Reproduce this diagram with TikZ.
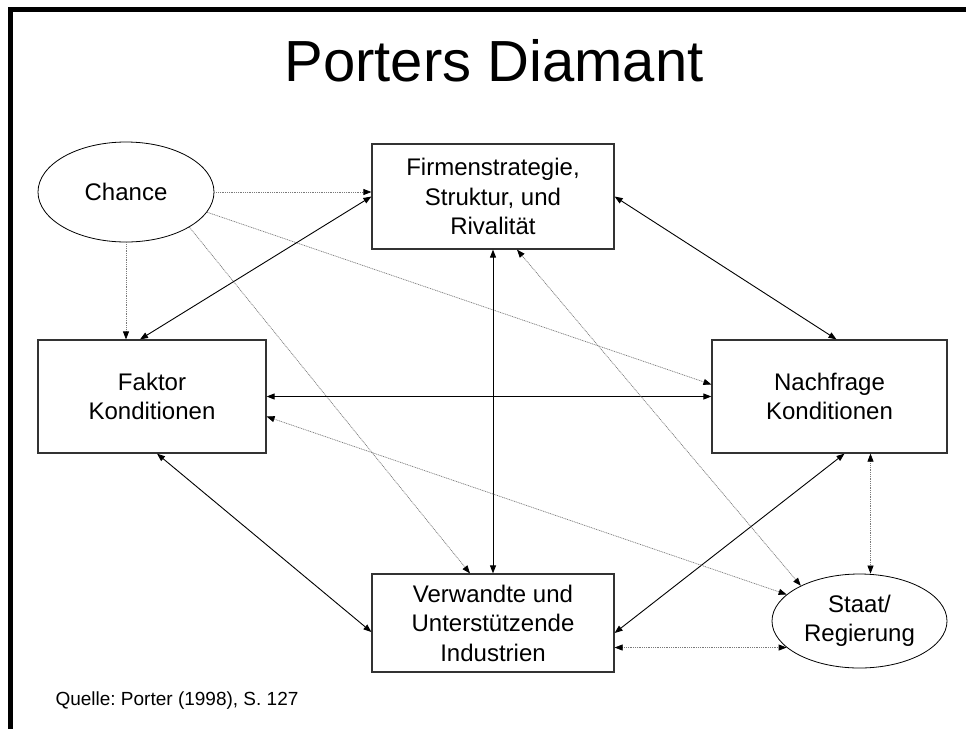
\documentclass[tikz,border=0pt]{standalone}
\usepackage{fontspec}
\setmainfont{Liberation Sans}
\usepackage{tikz}
\usetikzlibrary{calc,arrows.meta,shapes.geometric}
\definecolor{framegray}{HTML}{333333}
\definecolor{dotgray}{HTML}{7A7A7A}
\tikzset{
  box/.style={draw=framegray,line width=1.2pt,align=center,inner sep=0pt,
    font=\fontsize{24}{29.5}\selectfont},
  oval/.style={ellipse,draw=black,line width=0.8pt,align=center,inner sep=0pt,
    font=\fontsize{24}{29.5}\selectfont},
  solidar/.style={{Triangle[length=8pt,width=6pt]}-{Triangle[length=8pt,width=6pt]},line width=0.9pt,black},
  dotar/.style={-{Triangle[length=8pt,width=6pt,color=black]},line width=0.7pt,dotgray,dash pattern=on 1pt off 0.8pt},
  dotarr/.style={dotar,{Triangle[length=8pt,width=6pt,color=black]}-{Triangle[length=8pt,width=6pt,color=black]}}
}
\begin{document}
\begin{tikzpicture}[x=1pt,y=-1pt]
\useasboundingbox (0,0) rectangle (966,729);
% slide frame
\fill[black] (8,7) rectangle (966,12);
\fill[black] (8,7) rectangle (13,729);
\node[anchor=base,font=\fontsize{58}{60}\selectfont] (title) at (494,81) {Porters Diamant};
\node[anchor=base west,font=\fontsize{19}{22}\selectfont\frenchspacing] (quelle) at (52,705) {Quelle: Porter (1998), S. 127};
% nodes
\node[oval,minimum width=176pt,minimum height=100pt] (chance) at (126,192) {Chance};
\node[box,minimum width=242pt,minimum height=105pt] (firm) at (493,196.5) {Firmenstrategie,\\Struktur, und\\Rivalität};
\node[box,minimum width=228pt,minimum height=113pt] (faktor) at (152,396.5) {Faktor\\Konditionen};
\node[box,minimum width=235pt,minimum height=113pt] (nach) at (829.5,396.5) {Nachfrage\\Konditionen};
\node[box,minimum width=242pt,minimum height=98pt] (verw) at (493,623) {Verwandte und\\Unterstützende\\Industrien};
\node[oval,minimum width=175pt,minimum height=94pt] (staat) at (859.5,621) {Staat/\\Regierung};
% Chance
\draw[dotar] (chance.east) -- (chance.east -| firm.west);
\draw[dotar] (chance.south) -- (chance.south |- faktor.north);
\draw[dotar] (chance.-14) -- ([yshift=12pt]nach.west);
\draw[dotar] (chance.-29) -- ([xshift=-23pt]verw.north);
% diamond
\draw[solidar] (firm.west) -- ([xshift=-12pt]faktor.north);
\draw[solidar] (firm.east) -- ([xshift=7pt]nach.north);
\draw[solidar] (firm.south) -- (verw.north);
\draw[solidar] (faktor.east) -- (faktor.east -| nach.west);
\draw[solidar] ([xshift=5pt]faktor.south) -- ([yshift=-9pt]verw.west);
\draw[solidar] ([xshift=15pt]nach.south) -- ([yshift=-10pt]verw.east);
% Staat
\draw[dotarr] ([xshift=24pt]firm.south) -- (staat.149);
\draw[dotarr] ([yshift=-20pt]faktor.east) -- (staat.160);
\draw[dotarr] ([xshift=41pt]nach.south) -- ([xshift=41pt]nach.south |- staat.north);
\draw[dotarr] (staat.200 -| verw.east) -- (staat.200);
\end{tikzpicture}
\end{document}
